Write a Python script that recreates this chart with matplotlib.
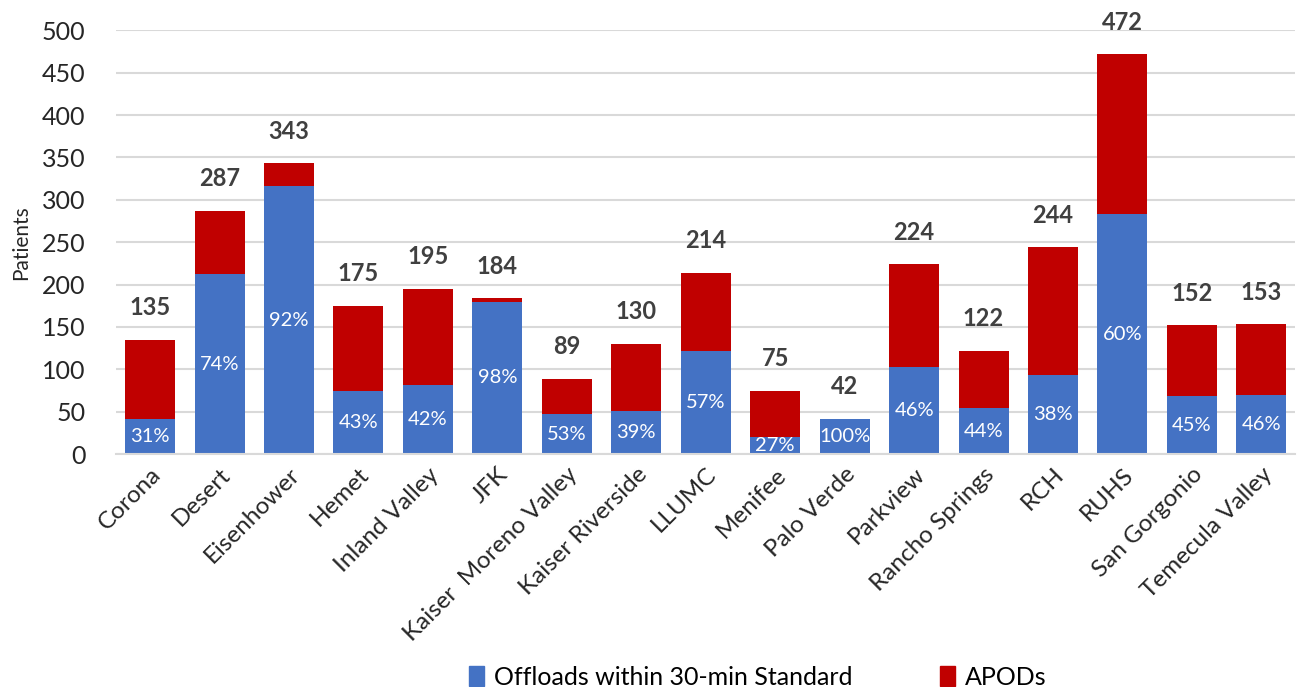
import matplotlib
matplotlib.use("Agg")
from matplotlib import pyplot as plt
from matplotlib.patches import Patch
import numpy as np

plt.rcParams['font.family'] = ['Lato', 'DejaVu Sans']

##### DATA #####
hospitals = ["Corona", "Desert", "Eisenhower", "Hemet", "Inland Valley", "JFK",
             "Kaiser  Moreno Valley", "Kaiser Riverside", "LLUMC", "Menifee",
             "Palo Verde", "Parkview", "Rancho Springs", "RCH", "RUHS",
             "San Gorgonio", "Temecula Valley"]
totals = [135, 287, 343, 175, 195, 184, 89, 130, 214, 75, 42, 224, 122, 244, 472, 152, 153]
offloads = [42, 212, 316, 75, 82, 180, 47, 51, 122, 20, 42, 103, 54, 93, 283, 68, 70]
pct_labels = ["31%", "74%", "92%", "43%", "42%", "98%", "53%", "39%", "57%", "27%",
              "100%", "46%", "44%", "38%", "60%", "45%", "46%"]
################

apods = [t - o for t, o in zip(totals, offloads)]

blue = "#4472C4"
red = "#C00000"

fig = plt.figure(figsize=(12.98, 6.87), dpi=100)
ax = fig.add_axes([0.0894, 0.339, 0.9086, 0.617])

x = np.arange(len(hospitals))
ax.bar(x, offloads, width=0.72, color=blue, zorder=2)
ax.bar(x, apods, width=0.72, bottom=offloads, color=red, zorder=2)

for i in range(len(hospitals)):
    ax.text(x[i], offloads[i] / 2, pct_labels[i], color="white", fontsize=14.5,
            ha="center", va="center", zorder=3)
    ax.annotate(str(totals[i]), (x[i], totals[i]), xytext=(0, 23),
                textcoords="offset points", ha="center", va="center",
                fontsize=17, fontweight="bold", color="#404040",
                annotation_clip=False)

ax.set_xlim(-0.49, len(hospitals) - 0.51)
ax.set_ylim(0, 500)
ax.set_yticks(range(0, 501, 50))
ax.tick_params(axis="y", labelsize=18, length=0, pad=22, colors="#262626")
ax.tick_params(axis="x", labelsize=17.5, length=0, pad=7, colors="#262626")
ax.set_xticks(x)
ax.set_xticklabels(hospitals, rotation=45, ha="right", rotation_mode="anchor")
ax.set_ylabel("Patients", fontsize=15, color="#262626", labelpad=8)

ax.yaxis.grid(True, color="#D9D9D9", linewidth=1.5, zorder=0)
for s in ["top", "right", "left"]:
    ax.spines[s].set_visible(False)
ax.spines["bottom"].set_color("#D9D9D9")
ax.spines["bottom"].set_linewidth(1.5)

handles = [Patch(color=blue, label="Offloads within 30-min Standard"),
           Patch(color=red, label="APODs")]
fig.legend(handles=handles, loc="lower center", bbox_to_anchor=(0.584, -0.035),
           ncol=2, frameon=False, fontsize=18, columnspacing=3.5,
           handlelength=0.6, handleheight=0.9, handletextpad=0.4)

fig.savefig("out.png", dpi=100)
